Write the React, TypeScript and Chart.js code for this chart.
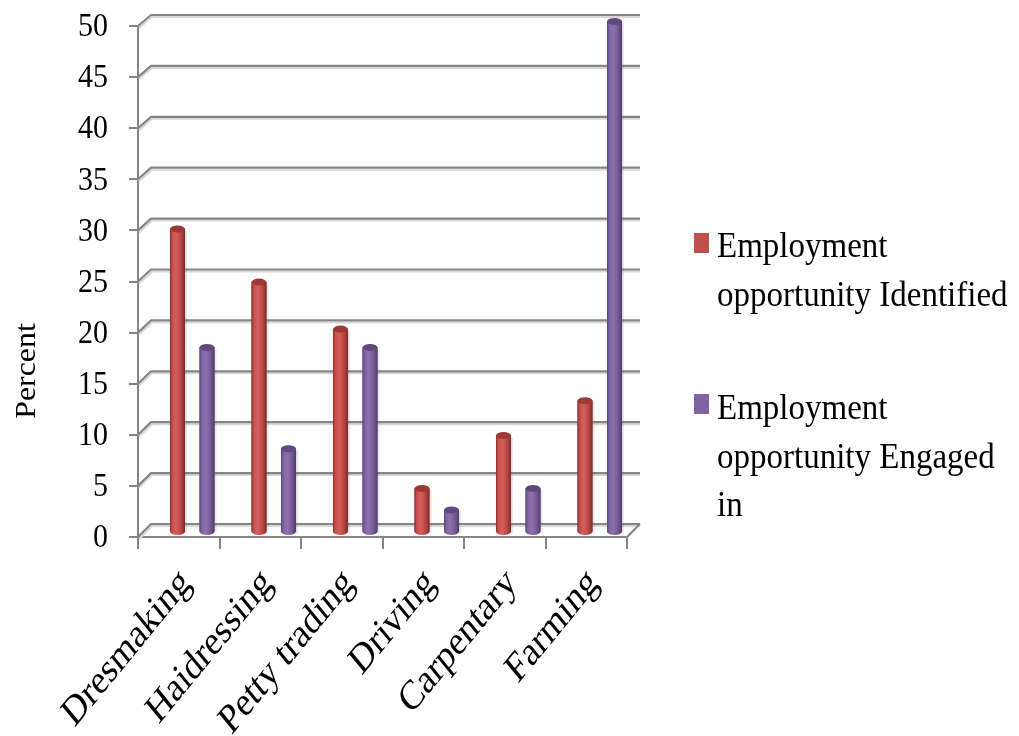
import { useEffect, useRef } from "react";
import { Chart, registerables } from "chart.js";

Chart.register(...registerables);

// ---- data ----
const categories = ["Dresmaking", "Haidressing", "Petty trading", "Driving", "Carpentary", "Farming"];
const identified = [29.7, 24.5, 19.9, 4.3, 9.5, 12.9];
const engaged = [18.1, 8.2, 18.1, 2.2, 4.3, 50];
const seriesLabels = [
  ["Employment", "opportunity Identified"],
  ["Employment", "opportunity Engaged", "in"],
];
const yMin = 0;
const yMax = 50;
const yStep = 5;
const yTitle = "Percent";

// ---- styles ----
const FONT = "'Liberation Serif', 'Times New Roman', serif";
const GRID_DARK = "#858585";
const GRID_LIGHT = "#d8d8d8";
const RED = "#c0504d";
const PURPLE = "#8064a2";
const STRETCH = 1.15; // text is drawn slightly taller than wide
const X_STRETCH = 1.22;

type Palette = { edgeL: string; body: string; light: string; shade: string; edgeR: string; top: string };
const palettes: Palette[] = [
  { edgeL: "#8a2f2c", body: "#c64f4c", light: "#d3605d", shade: "#a63f3c", edgeR: "#7a2826", top: "#9c3936" },
  { edgeL: "#594476", body: "#8064a2", light: "#8d71af", shade: "#6a5288", edgeR: "#4c3a65", top: "#5f4a7b" },
];

// depth of the 3D box (back wall offset) and plane of the columns
const BACK_DX = 13;
const BAR_DX = 13.5;
const BAR_DY = -4.5;
const backDy = (v: number) => -13 + (2 * v) / yMax;

const depthPlugin = {
  id: "depth3d",
  beforeDatasetsDraw(chart: any) {
    const { ctx, chartArea, scales } = chart;
    const y = scales.y;
    const left = chartArea.left;
    const right = chartArea.right;
    const backRight = right + BACK_DX;
    ctx.save();
    ctx.lineCap = "butt";
    for (let v = yMin; v <= yMax; v += yStep) {
      const fy = y.getPixelForValue(v);
      const by = fy + backDy(v);
      ctx.strokeStyle = GRID_LIGHT;
      ctx.lineWidth = 2;
      ctx.beginPath();
      ctx.moveTo(left + 1, fy + 2);
      ctx.lineTo(left + BACK_DX + 1, by + 2);
      ctx.lineTo(backRight, by + 2);
      ctx.stroke();
      ctx.strokeStyle = GRID_DARK;
      ctx.lineWidth = 2.2;
      ctx.beginPath();
      ctx.moveTo(left, fy);
      ctx.lineTo(left + BACK_DX, by);
      ctx.lineTo(backRight, by);
      ctx.stroke();
    }
    const fy0 = y.getPixelForValue(yMin);
    ctx.strokeStyle = GRID_DARK;
    ctx.lineWidth = 2;
    ctx.beginPath();
    ctx.moveTo(right, fy0);
    ctx.lineTo(backRight, fy0 + backDy(yMin));
    ctx.stroke();
    ctx.restore();

    ctx.save();
    ctx.translate(BAR_DX, BAR_DY);
  },
  afterDatasetsDraw(chart: any) {
    const { ctx } = chart;
    chart.data.datasets.forEach((_ds: any, di: number) => {
      const meta = chart.getDatasetMeta(di);
      const pal = palettes[di];
      meta.data.forEach((el: any) => {
        const { x, y, base, width } = el.getProps(["x", "y", "base", "width"], true);
        const l = x - width / 2;
        const r = x + width / 2;
        const ry = 3.5;
        const g = ctx.createLinearGradient(l, 0, r, 0);
        g.addColorStop(0, pal.edgeL);
        g.addColorStop(0.16, pal.body);
        g.addColorStop(0.4, pal.light);
        g.addColorStop(0.62, pal.body);
        g.addColorStop(0.82, pal.shade);
        g.addColorStop(1, pal.edgeR);

        ctx.fillStyle = "rgba(120,120,120,0.18)";
        ctx.fillRect(r, y + 2, 2, base - y);

        ctx.fillStyle = g;
        ctx.beginPath();
        ctx.moveTo(l, y);
        ctx.lineTo(l, base);
        ctx.ellipse(x, base, width / 2, ry, 0, Math.PI, 0, true);
        ctx.lineTo(r, y);
        ctx.closePath();
        ctx.fill();

        ctx.fillStyle = pal.top;
        ctx.beginPath();
        ctx.ellipse(x, y, width / 2, ry, 0, 0, Math.PI * 2);
        ctx.fill();
      });
    });
    ctx.restore();
  },
  afterDraw(chart: any) {
    const { ctx, scales } = chart;
    ctx.save();
    ctx.fillStyle = "#000";

    // y tick labels
    ctx.font = `30px ${FONT}`;
    ctx.textAlign = "right";
    ctx.textBaseline = "middle";
    scales.y.ticks.forEach((t: any) => {
      const py = scales.y.getPixelForValue(t.value);
      ctx.save();
      ctx.translate(108, py);
      ctx.scale(1, STRETCH);
      ctx.fillText(String(t.value), 0, 1);
      ctx.restore();
    });

    // x tick labels, rotated
    ctx.font = `34px ${FONT}`;
    ctx.textAlign = "right";
    ctx.textBaseline = "middle";
    categories.forEach((c, i) => {
      const px = scales.x.getPixelForValue(i);
      ctx.save();
      ctx.translate(px + 7, 577);
      ctx.scale(1, X_STRETCH);
      ctx.rotate(-Math.PI / 4);
      ctx.fillText(c, 0, 0);
      ctx.restore();
    });

    // axis title
    ctx.save();
    ctx.translate(27, 371);
    ctx.rotate(-Math.PI / 2);
    ctx.scale(1.1, 1);
    ctx.font = `29px ${FONT}`;
    ctx.textAlign = "center";
    ctx.textBaseline = "middle";
    ctx.fillText(yTitle, 0, 0);
    ctx.restore();

    // legend
    const colors = [RED, PURPLE];
    const squareTops = [233, 394];
    const firstBaselines = [257, 419];
    const lineGap = 48.5;
    ctx.font = `33px ${FONT}`;
    ctx.textAlign = "left";
    ctx.textBaseline = "alphabetic";
    seriesLabels.forEach((lines, i) => {
      ctx.fillStyle = colors[i];
      ctx.fillRect(694, squareTops[i], 15, 20);
      ctx.fillStyle = "#000";
      lines.forEach((txt, k) => {
        ctx.save();
        ctx.translate(717, firstBaselines[i] + k * lineGap);
        ctx.scale(1, 1.1);
        ctx.fillText(txt, 0, 0);
        ctx.restore();
      });
    });
    ctx.restore();
  },
};

export default function App() {
  const ref = useRef<HTMLCanvasElement | null>(null);

  useEffect(() => {
    if (!ref.current) return;
    const chart = new Chart(ref.current, {
      type: "bar",
      data: {
        labels: categories,
        datasets: [
          {
            label: seriesLabels[0].join(" "),
            data: identified,
            backgroundColor: RED,
            borderWidth: 0,
            categoryPercentage: 0.724,
            barPercentage: 0.51,
            clip: false as any,
          },
          {
            label: seriesLabels[1].join(" "),
            data: engaged,
            backgroundColor: PURPLE,
            borderWidth: 0,
            categoryPercentage: 0.724,
            barPercentage: 0.51,
            clip: false as any,
          },
        ],
      },
      options: {
        animation: false,
        responsive: false,
        maintainAspectRatio: false,
        layout: { padding: { left: 0, right: 392, top: 26, bottom: 0 } },
        plugins: { legend: { display: false }, tooltip: { enabled: false } },
        scales: {
          x: {
            grid: {
              offset: true,
              drawOnChartArea: false,
              drawTicks: true,
              tickLength: 12,
              color: GRID_DARK,
              lineWidth: 2,
            },
            border: { display: true, color: GRID_DARK, width: 2 },
            ticks: { display: false, autoSkip: false },
            afterFit: (s: any) => {
              s.height = 199;
            },
          },
          y: {
            min: yMin,
            max: yMax,
            grid: {
              drawOnChartArea: false,
              drawTicks: true,
              tickLength: 9,
              color: GRID_DARK,
              lineWidth: 2,
            },
            border: { display: true, color: GRID_DARK, width: 2 },
            ticks: { display: false, stepSize: yStep },
            afterFit: (s: any) => {
              s.width = 138;
            },
          },
        },
      },
      plugins: [depthPlugin],
    });
    return () => chart.destroy();
  }, []);

  return (
    <div style={{ position: "fixed", left: 0, top: 0, width: 1019, height: 736, background: "#fff" }}>
      <canvas ref={ref} width={1019} height={736} />
    </div>
  );
}
